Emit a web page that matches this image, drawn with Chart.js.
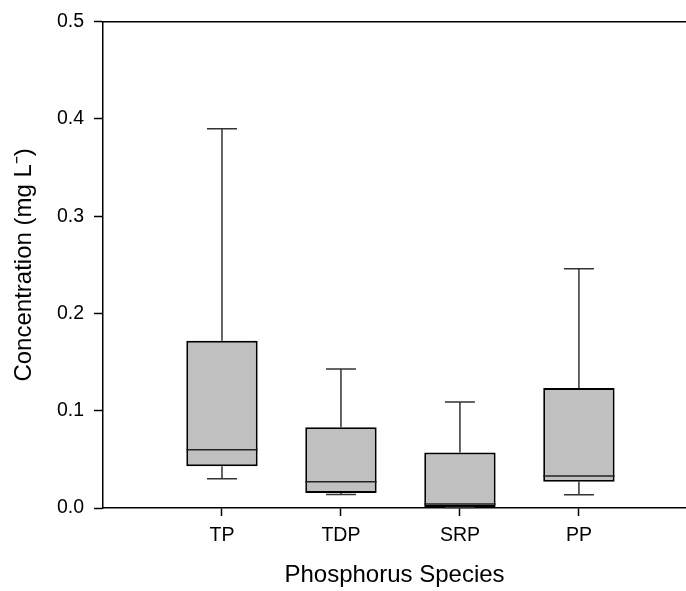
<!DOCTYPE html>
<html>
<head>
<meta charset="utf-8">
<script src="https://cdn.jsdelivr.net/npm/chart.js@4.4.1/dist/chart.umd.min.js"></script>
<style>
  html, body { margin: 0; padding: 0; background: #fff; }
  #wrap { width: 686px; height: 591px; }
</style>
</head>
<body>
<div id="wrap"><canvas id="boxChart"></canvas></div>
<script>
// Box plot data (mg/L)
const species = ['TP', 'TDP', 'SRP', 'PP'];
const positions = [1, 2, 3, 4];
const whiskerMin = [0.030, 0.014, 0.0005, 0.0135];
const quart1 = [0.043, 0.0153, 0.001, 0.027];
const medians = [0.060, 0.027, 0.004, 0.033];
const quart3 = [0.172, 0.083, 0.057, 0.1235];
const whiskerMax = [0.390, 0.143, 0.109, 0.246];
const yTicks = [0, 0.1, 0.2, 0.3, 0.4, 0.5];

const CAP_HALF = 0.126; // cap half-width in category units
const tickFont = { family: 'Liberation Sans, Arial, sans-serif', size: 19.5 };
const titleFont = { family: 'Liberation Sans, Arial, sans-serif', size: 24 };

// Draws whiskers, caps, medians and the top frame line
const boxExtras = {
    id: 'boxExtras',
    afterDatasetsDraw(chart) {
        const ctx = chart.ctx;
        const x = chart.scales.x, y = chart.scales.y;
        const area = chart.chartArea;
        ctx.save();
        ctx.lineCap = 'butt';

        // whiskers + caps
        ctx.strokeStyle = '#333';
        ctx.lineWidth = 1.5;
        positions.forEach((p, i) => {
            const cx = x.getPixelForValue(p);
            const l = x.getPixelForValue(p - CAP_HALF);
            const r = x.getPixelForValue(p + CAP_HALF);
            ctx.beginPath();
            ctx.moveTo(cx, y.getPixelForValue(quart3[i]));
            ctx.lineTo(cx, y.getPixelForValue(whiskerMax[i]));
            ctx.moveTo(l, y.getPixelForValue(whiskerMax[i]));
            ctx.lineTo(r, y.getPixelForValue(whiskerMax[i]));
            ctx.moveTo(cx, y.getPixelForValue(quart1[i]));
            ctx.lineTo(cx, y.getPixelForValue(whiskerMin[i]));
            ctx.moveTo(l, y.getPixelForValue(whiskerMin[i]));
            ctx.lineTo(r, y.getPixelForValue(whiskerMin[i]));
            ctx.stroke();
        });

        // medians
        const meta = chart.getDatasetMeta(0);
        ctx.strokeStyle = '#222';
        ctx.lineWidth = 1.5;
        meta.data.forEach((bar, i) => {
            const half = bar.width / 2;
            const my = y.getPixelForValue(medians[i]);
            ctx.beginPath();
            ctx.moveTo(bar.x - half, my);
            ctx.lineTo(bar.x + half, my);
            ctx.stroke();
        });

        // top frame
        ctx.strokeStyle = '#000';
        ctx.lineWidth = 1.5;
        ctx.beginPath();
        ctx.moveTo(area.left, area.top);
        ctx.lineTo(area.right, area.top);
        ctx.stroke();
        ctx.restore();
    }
};

const ctx = document.getElementById('boxChart').getContext('2d');
const boxChart = new Chart(ctx, {
    type: 'bar',
    data: {
        datasets: [{
            data: positions.map((p, i) => ({ x: p, y: [quart1[i], quart3[i]] })),
            backgroundColor: '#c0c0c0',
            borderColor: '#000',
            borderWidth: 2,
            borderSkipped: false,
            categoryPercentage: 1,
            barPercentage: 0.6
        }]
    },
    options: {
        responsive: true,
        maintainAspectRatio: false,
        animation: false,
        layout: { padding: { top: 19, right: 0, left: 0, bottom: 0 } },
        plugins: {
            legend: { display: false },
            tooltip: { enabled: false }
        },
        scales: {
            x: {
                type: 'linear',
                min: 0,
                max: 4.9,
                offset: false,
                afterBuildTicks: (scale) => {
                    scale.ticks = positions.map(v => ({ value: v }));
                },
                afterFit: (scale) => { scale.height = 83; },
                ticks: {
                    color: '#000',
                    font: tickFont,
                    padding: 8,
                    maxRotation: 0,
                    callback: (v) => species[positions.indexOf(v)]
                },
                grid: {
                    offset: false,
                    drawOnChartArea: false,
                    tickLength: 8,
                    tickColor: '#000',
                    tickWidth: 1.5
                },
                border: { color: '#000', width: 1.5 },
                title: {
                    display: true,
                    text: 'Phosphorus Species',
                    color: '#000',
                    font: titleFont,
                    padding: { top: 0, bottom: 1 }
                }
            },
            y: {
                min: 0,
                max: 0.5,
                afterBuildTicks: (scale) => {
                    scale.ticks = yTicks.map(v => ({ value: v }));
                },
                afterFit: (scale) => { scale.width = 103; },
                ticks: {
                    color: '#000',
                    font: tickFont,
                    padding: 10,
                    callback: (v) => v.toFixed(1)
                },
                grid: {
                    drawOnChartArea: false,
                    tickLength: 9,
                    tickColor: '#000',
                    tickWidth: 1.5
                },
                border: { color: '#000', width: 1.5 },
                title: {
                    display: true,
                    text: 'Concentration (mg L⁻)',
                    color: '#000',
                    font: titleFont,
                    padding: { top: 10, bottom: 0 }
                }
            }
        }
    },
    plugins: [boxExtras]
});
</script>
</body>
</html>
